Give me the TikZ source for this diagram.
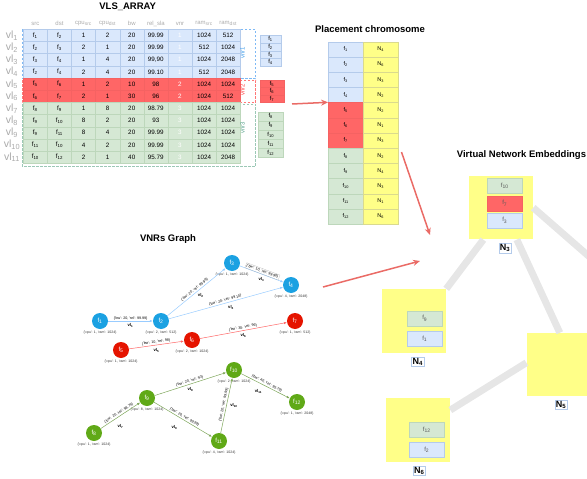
\documentclass[tikz,border=0pt]{standalone}
\usepackage{fontspec}
\setmainfont{Liberation Sans}
\usetikzlibrary{arrows.meta,positioning}

\definecolor{vblue}{HTML}{DAE8FC}
\definecolor{vblueline}{HTML}{B4CBEB}
\definecolor{vred}{HTML}{FF6666}
\definecolor{vredline}{HTML}{F56262}
\definecolor{vgreen}{HTML}{D5E8D4}
\definecolor{vgreenline}{HTML}{BDD7BB}
\definecolor{vyellow}{HTML}{FFFF88}
\definecolor{vyellowline}{HTML}{DADA8E}
\definecolor{vnrblue}{HTML}{7EB9F5}
\definecolor{vnrred}{HTML}{FF7777}
\definecolor{vnrgreen}{HTML}{9CC8B6}
\definecolor{vnrbluetext}{HTML}{3D9BE9}
\definecolor{vnrredtext}{HTML}{FF4444}
\definecolor{vnrgreentext}{HTML}{5AA38E}
\definecolor{nodeblue}{HTML}{1BA1E2}
\definecolor{nodered}{HTML}{E51400}
\definecolor{nodegreen}{HTML}{60A917}
\definecolor{edgeblue}{HTML}{99CCFF}
\definecolor{edgered}{HTML}{FF6666}
\definecolor{edgegreen}{HTML}{7EA65A}
\definecolor{arrowred}{HTML}{EA6B66}
\definecolor{linkgray}{HTML}{E6E6E6}
\definecolor{labgray}{HTML}{AAAAAA}

\newcommand\fv[1]{f\textsubscript{#1}}
\newcommand\qt[1]{\textquotesingle#1\textquotesingle}
\newcommand\attr[2]{\{\qt{cpu}: #1, \qt{ram}: #2\}}
\newcommand\bwrel[2]{\{\qt{bw}: #1, \qt{rel}: #2\}}

\begin{document}
\begin{tikzpicture}[x=1pt, y=-1pt,
    title/.style={font=\bfseries\fontsize{9.5}{11}\selectfont},
    cell/.style={fill=#1, draw=#1line, minimum width=24.1pt, minimum height=12.18pt, inner sep=0pt, font=\fontsize{6.3}{7}\selectfont},
    head/.style={text=labgray, font=\fontsize{6}{7}\selectfont, inner sep=0pt},
    rowlab/.style={text=labgray, font=\fontsize{10.5}{12}\selectfont, inner sep=0pt},
    vnrbox/.style={draw=#1, line width=.9pt, dash pattern=on 2.5pt off 1.5pt},
    vnrlab/.style={text=#1, rotate=90, font=\fontsize{6}{7}\selectfont, inner sep=0pt},
    vnrcell/.style={cell=#1, minimum width=20.5pt, minimum height=7.6pt, font=\fontsize{5.8}{6}\selectfont},
    gene/.style={cell=#1, minimum width=35pt, minimum height=15.2pt, font=\fontsize{5.5}{6}\selectfont},
    vnf/.style={circle, fill=#1, text=white, minimum size=16pt, inner sep=0pt, font=\fontsize{6}{7}\selectfont},
    attrlab/.style={font=\fontsize{3.5}{4}\selectfont, inner sep=0pt, text=black!80},
    vlink/.style={draw=#1, line width=.5pt, -{Latex[length=3pt,width=2.4pt]}},
    bw/.style={above, sloped, font=\fontsize{3.6}{4}\selectfont, inner sep=1pt},
    vlab/.style={font=\bfseries\fontsize{4.2}{5}\selectfont, inner sep=0.5pt},
    nbox/.style={fill=vyellow, minimum width=64.5pt, minimum height=63.5pt, inner sep=0pt},
    ncell/.style={gene=#1, minimum height=15pt, text=black!65, font=\fontsize{6}{7}\selectfont},
    nlab/.style={draw=vblueline, line width=.3pt, font=\bfseries\fontsize{9}{10}\selectfont, inner sep=1pt},
    link/.style={linkgray, line width=7pt},
    bigarrow/.style={arrowred, line width=1.5pt, -{Stealth[length=7pt,width=6pt]}}]
  \useasboundingbox (0,0) rectangle (587,479);

  \node[title] (t1) at (127.7,7) {VLS\_ARRAY};
  \node[title] (t2) at (370,29) {Placement chromosome};
  \node[title] (t3) at (168,239) {VNRs Graph};
  \node[title, anchor=west, inner sep=0pt] (t4) at (456.7,155) {Virtual Network Embeddings};

  \draw[vnrbox=vnrblue] (22,29.5) rectangle (255.5,78.5);
  \draw[vnrbox=vnrred] (22,80) rectangle (255.5,102.5);
  \draw[vnrbox=vnrgreen] (22,104) rectangle (255.5,166);

  \foreach \t [count=\j] in {src,dst,cpu\textsubscript{src},cpu\textsubscript{dst},bw,rel\_sla,vnr,ram\textsubscript{src},ram\textsubscript{dst}}
    \node[head] (h\j) at ({23.3+24.1*(\j-0.5)},23.5) {\t};

  \foreach \cl/\fs/\fd/\cs/\cd/\vbw/\vrel/\vn/\rs/\rd [count=\i] in {
      vblue/1/2/1/2/20/99.99/1/1024/512,
      vblue/2/3/2/1/20/99.99/1/512/1024,
      vblue/3/4/1/4/20/{99,90}/1/1024/2048,
      vblue/2/4/2/4/20/99.10/1/512/2048,
      vred/5/6/1/2/10/98/2/1024/1024,
      vred/6/7/2/1/30/96/2/1024/512,
      vgreen/8/9/1/8/20/98.79/3/1024/1024,
      vgreen/9/10/8/2/20/93/3/1024/1024,
      vgreen/9/11/8/4/20/99.99/3/1024/1024,
      vgreen/11/10/4/2/20/99.99/3/1024/1024,
      vgreen/10/12/2/1/40/95.79/3/1024/2048}{
    \pgfmathsetmacro\y{29.3+12.18*(\i-0.5)}
    \node[rowlab] (row\i) at (12,\y) {vl\textsubscript{\i}};
    \foreach \t [count=\j] in {\fv{\fs},\fv{\fd},\cs,\cd,\vbw,{\vrel},\textcolor{white}{\vn},\rs,\rd}
      \node[cell=\cl] (c\i-\j) at ({23.3+24.1*(\j-0.5)},\y) {\t};
  }

  \node[vnrlab=vnrbluetext] (vnr1) at (242.5,53) {vnr1};
  \node[vnrlab=vnrredtext] (vnr2) at (242.5,90) {vnr2};
  \node[vnrlab=vnrgreentext] (vnr3) at (242.5,128) {vnr3};

  \foreach \n [count=\i] in {1,...,4}
    \node[vnrcell=vblue] (sb\i) at (270.5,{35.5+7.6*(\i-0.5)}) {\fv{\n}};
  \foreach \n [count=\i] in {5,6,7}
    \node[vnrcell=vred, minimum width=24pt, minimum height=7.4pt] (sr\i) at (272,{80+7.4*(\i-0.5)}) {\fv{\n}};
  \foreach \n [count=\i] in {8,...,12}
    \node[vnrcell=vgreen, minimum width=25pt, minimum height=9.1pt] (sg\i) at (270.8,{111.7+9.1*(\i-0.5)}) {\fv{\n}};

  \foreach \cl/\n/\m [count=\i] in {vblue/1/4, vblue/2/6, vblue/3/3, vblue/4/2, vred/5/2, vred/6/1,
      vred/7/3, vgreen/8/2, vgreen/9/4, vgreen/10/3, vgreen/11/1, vgreen/12/6}{
    \node[gene=\cl] (p\i-1) at (345.8,{41.7+15.2*(\i-0.5)}) {\fv{\n}};
    \node[gene=vyellow] (p\i-2) at (380.8,{41.7+15.2*(\i-0.5)}) {N\textsubscript{\m}};
  }

  \coordinate (arr1) at (292,104);
  \coordinate (arr2) at (401.5,152);
  \coordinate (arr2e) at (430,235);
  \coordinate (arr3) at (323,287);
  \coordinate (arr3e) at (420,261);
  \draw[bigarrow] (arr1) -- (p5-1.north west);
  \draw[bigarrow] (arr2) -- (arr2e);
  \draw[bigarrow] (arr3) -- (arr3e);

  \foreach \n/\cl/\px/\py/\cpu/\ram in {1/nodeblue/100/321/1/1024, 2/nodeblue/161/321/2/512,
      3/nodeblue/232/263/1/1024, 4/nodeblue/291/285/4/2048, 5/nodered/121/350/1/1024,
      6/nodered/192/340/2/1024, 7/nodered/295/321/1/512, 8/nodegreen/94/433/1/1024,
      9/nodegreen/147/398/8/1024, 10/nodegreen/234/370/2/1024, 11/nodegreen/219/441/4/1024,
      12/nodegreen/297/402/1/2048}{
    \node[vnf=\cl] (f\n) at (\px,\py) {\fv{\n}};
    \node[attrlab, below=2pt of f\n] (a\n) {\attr{\cpu}{\ram}};
  }

  \draw[vlink=edgeblue] (f1) -- node[bw] (e1) {\bwrel{20}{99.99}} node[vlab, below=2pt] (l1) {vl\textsubscript{1}} (f2);
  \draw[vlink=edgeblue] (f2) -- node[bw] (e2) {\bwrel{20}{99.99}} node[vlab, below right=1pt] (l2) {vl\textsubscript{2}} (f3);
  \draw[vlink=edgeblue] (f3) -- node[bw, draw=black!30, line width=.2pt] (e3) {\bwrel{10}{99.90}} node[vlab, below=3pt] (l3) {vl\textsubscript{3}} (f4);
  \draw[vlink=edgeblue] (f2) -- node[bw] (e4) {\bwrel{20}{99.10}} node[vlab, below right=2pt] (l4) {vl\textsubscript{4}} (f4);
  \draw[vlink=edgered] (f5) -- node[bw] (e5) {\bwrel{10}{98}} node[vlab, below=3pt] (l5) {vl\textsubscript{5}} (f6);
  \draw[vlink=edgered] (f6) -- node[bw] (e6) {\bwrel{30}{96}} node[vlab, below=2pt] (l6) {vl\textsubscript{6}} (f7);
  \draw[vlink=edgegreen] (f8) -- node[bw] (e7) {\bwrel{20}{98.79}} node[vlab, below=8pt] (l7) {vl\textsubscript{7}} (f9);
  \draw[vlink=edgegreen] (f9) -- node[bw] (e8) {\bwrel{20}{93}} node[vlab, below=3pt] (l8) {vl\textsubscript{8}} (f10);
  \draw[vlink=edgegreen] (f9) -- node[bw] (e9) {\bwrel{20}{99.99}} node[vlab, below left=7pt] (l9) {vl\textsubscript{9}} (f11);
  \draw[vlink=edgegreen] (f11) -- node[bw] (e10) {\bwrel{20}{99.99}} node[vlab, right=3pt] (l10) {vl\textsubscript{10}} (f10);
  \draw[vlink=edgegreen] (f10) -- node[bw] (e11) {\bwrel{40}{95.79}} node[vlab, below left=4pt] (l11) {vl\textsubscript{11}} (f12);

  \node[nbox] (n3) at (500.8,207.7) {};
  \node[nbox] (n4) at (413.8,320.8) {};
  \node[nbox] (n5) at (558.8,364.7) {};
  \node[nbox] (n6) at (417.9,430) {};
  \coordinate (n1dir) at (600,266);
  \draw[link] ([xshift=15pt]n3.south west) -- (n4.north east);
  \draw[link] ([xshift=48.5pt]n3.south west) -- ([xshift=1pt]n5.north);
  \draw[link] ([yshift=-12pt]n6.north east) -- ([yshift=-30pt]n5.north west);
  \draw[link] (n3.east) -- (n1dir);

  \node[ncell=vgreen] (n3a) at (504.8,185.8) {\fv{10}};
  \node[ncell=vred] (n3b) at (504.8,203.5) {\fv{7}};
  \node[ncell=vblue] (n3c) at (504.8,220.5) {\fv{3}};
  \node[ncell=vgreen] (n4a) at (424.8,318.5) {\fv{9}};
  \node[ncell=vblue] (n4b) at (424.8,338.8) {\fv{1}};
  \node[ncell=vgreen] (n6a) at (426.8,429.8) {\fv{12}};
  \node[ncell=vblue] (n6b) at (426.8,450) {\fv{2}};

  \node[nlab] (n3l) at (505,248.3) {N\textsubscript{3}};
  \node[nlab] (n4l) at (417.7,361.7) {N\textsubscript{4}};
  \node[nlab] (n5l) at (561,405) {N\textsubscript{5}};
  \node[nlab] (n6l) at (419.3,470.7) {N\textsubscript{6}};
\end{tikzpicture}
\end{document}
